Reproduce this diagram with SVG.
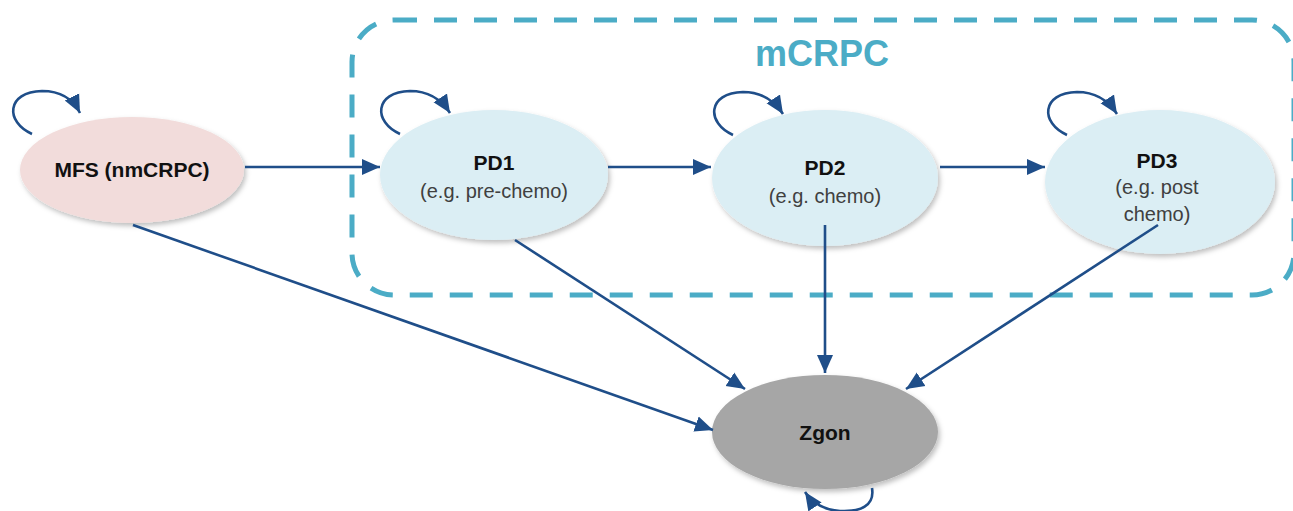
<svg xmlns="http://www.w3.org/2000/svg" width="1293" height="511" viewBox="0 0 1293 511">
<style>
.node-title{font-family:"Liberation Sans",Arial,sans-serif;font-weight:bold;font-size:21px;fill:#111;text-anchor:middle}
.node-sub{font-family:"Liberation Sans",Arial,sans-serif;font-size:20px;fill:#404040;text-anchor:middle}
.edge{fill:none;stroke:#1f4e89;stroke-width:2.6;marker-end:url(#ah)}
.pd{fill:#dbeef4}
</style>
<defs>
<marker id="ah" markerUnits="userSpaceOnUse" markerWidth="20" markerHeight="18" viewBox="0 0 20 18" refX="18" refY="9" orient="auto">
<path d="M0,1 L18,9 L0,17 Z" fill="#1f4e89"/>
</marker>
<filter id="sh" x="-10%" y="-10%" width="125%" height="130%">
<feDropShadow dx="2" dy="3" stdDeviation="2.5" flood-color="#000" flood-opacity="0.25"/>
</filter>
</defs>
<rect width="1293" height="511" fill="#fff"/>
<g id="mcrpc-group">
<rect x="352" y="20" width="942" height="275" rx="42" fill="none" stroke="#4bacc6" stroke-width="5" stroke-dasharray="23 17"/>
<text x="822" y="66" font-family="'Liberation Sans',Arial,sans-serif" font-weight="bold" font-size="36" fill="#4bacc6" text-anchor="middle">mCRPC</text>
</g>
<g id="node-mfs">
<ellipse cx="132" cy="170" rx="112" ry="53" fill="#f2dcdb" filter="url(#sh)"/>
<text class="node-title" x="132" y="177" font-size="20">MFS (nmCRPC)</text>
</g>
<g id="node-pd1">
<ellipse class="pd" cx="494" cy="175" rx="114" ry="65" filter="url(#sh)"/>
<text class="node-title" x="494" y="170">PD1</text>
<text class="node-sub" x="494" y="198">(e.g. pre-chemo)</text>
</g>
<g id="node-pd2">
<ellipse class="pd" cx="825" cy="178" rx="113" ry="68" filter="url(#sh)"/>
<text class="node-title" x="825" y="175">PD2</text>
<text class="node-sub" x="825" y="203">(e.g. chemo)</text>
</g>
<g id="node-pd3">
<ellipse class="pd" cx="1160" cy="182" rx="115" ry="72" filter="url(#sh)"/>
<text class="node-title" x="1157" y="168">PD3</text>
<text class="node-sub" x="1157" y="194">(e.g. post</text>
<text class="node-sub" x="1157" y="221">chemo)</text>
</g>
<g id="node-zgon">
<ellipse cx="825" cy="432" rx="113" ry="57" fill="#a6a6a6" filter="url(#sh)"/>
<text class="node-title" x="825" y="440">Zgon</text>
</g>
<g id="connectors">
<path class="edge" d="M245,167 L380,167"/>
<path class="edge" d="M608,167 L711,167"/>
<path class="edge" d="M940,167 L1045,167"/>
<path class="edge" d="M133,225 L713,430"/>
<path class="edge" d="M515,240 L745,389"/>
<path class="edge" d="M825,225 L825,373"/>
<path class="edge" d="M1158,225 L906,389"/>
<path class="edge" d="M32,134 C5,122 6,92 42,91 C60,91 73,99 80,113"/>
<path class="edge" d="M400,134 C373,122 374,92 410,91 C428,91 441,99 450,113"/>
<path class="edge" d="M733,135 C706,123 707,93 743,92 C761,92 774,100 783,114"/>
<path class="edge" d="M1067,135 C1040,123 1041,93 1077,92 C1095,92 1108,100 1117,114"/>
<path class="edge" d="M872,488 C875,506 860,512 840,511 C826,510 813,504 805,492"/>
</g>
</svg>
